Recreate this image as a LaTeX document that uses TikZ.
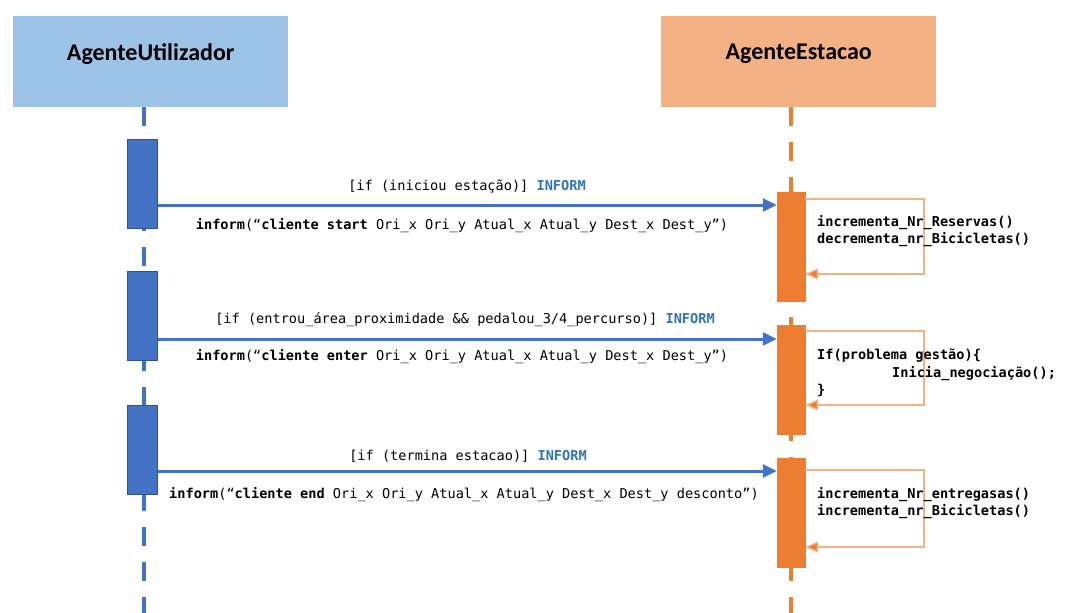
\documentclass[tikz,border=0pt]{standalone}
\usepackage{fontspec}
\setmainfont{Carlito}
\newfontfamily\codefont{DejaVu Sans Mono}
\usetikzlibrary{arrows.meta}
\definecolor{hdrblue}{HTML}{9DC3E6}
\definecolor{hdrorange}{HTML}{F4B183}
\definecolor{actblue}{HTML}{4472C4}
\definecolor{actblueb}{HTML}{2F528F}
\definecolor{actorange}{HTML}{ED7D31}
\definecolor{loopor}{HTML}{F4B183}
\definecolor{kwblue}{HTML}{2E75B6}
\tikzset{
  header/.style={minimum width=275pt,minimum height=91pt,inner sep=0pt},
  headtext/.style={font=\bfseries\fontsize{24}{28}\selectfont,inner sep=0pt},
  lifeblue/.style={draw=actblue,line width=4.5pt,dash pattern=on 19pt off 16pt},
  lifeorange/.style={draw=actorange,line width=4pt,dash pattern=on 19pt off 16pt},
  actb/.style={fill=actblue,draw=actblueb,line width=1pt,minimum width=30pt,inner sep=0pt},
  acto/.style={fill=actorange,draw=actorange,minimum width=28pt,inner sep=0pt},
  msg/.style={draw=actblue,line width=3pt,-{Triangle[length=14pt,width=13pt]}},
  selfloop/.style={draw=loopor,line width=1.5pt,-{Triangle[length=13pt,width=11pt,fill=actorange]}},
  code/.style={font=\codefont\fontsize{13.6}{17.5}\selectfont,inner sep=0pt},
}
\newcommand{\kwd}[1]{\textcolor{kwblue}{\bfseries #1}}
\begin{document}
\begin{tikzpicture}[x=1pt,y=-1pt]
\useasboundingbox[fill=white] (0,0) rectangle (1069,613);
% headers
\node[header,fill=hdrblue,anchor=north west] (hu) at (13,16) {};
\node[header,fill=hdrorange,anchor=north west] (he) at (661,16) {};
\node[headtext] (hut) at ([yshift=8pt]hu.center) {AgenteUtilizador};
\node[headtext] (het) at ([yshift=8pt]he.center) {AgenteEstacao};
% lifelines
\coordinate (lu) at (144,613);
\coordinate (le) at (791,613);
\draw[lifeblue] (hu.south -| 144,0) -- (lu);
\draw[lifeorange] (he.south -| 791,0) -- (le);
% activations user
\node[actb,minimum height=89pt,anchor=north] (au1) at (142,139) {};
\node[actb,minimum height=89pt,anchor=north] (au2) at (142,271) {};
\node[actb,minimum height=89pt,anchor=north] (au3) at (142,405) {};
% activations station
\node[acto,minimum height=109pt,anchor=north] (ae1) at (791,192) {};
\node[acto,minimum height=109pt,anchor=north] (ae2) at (791,325) {};
\node[acto,minimum height=109pt,anchor=north] (ae3) at (791,458) {};
% messages
\draw[msg] (au1.east |- 0,205) -- (ae1.west |- 0,205);
\draw[msg] (au2.east |- 0,339) -- (ae2.west |- 0,339);
\draw[msg] (au3.east |- 0,471) -- (ae3.west |- 0,471);
% message labels
\node[code] (l1a) at (467,187) {[if (iniciou estação)] \kwd{INFORM}};
\node[code] (l1b) at (462,226) {\textbf{inform}(“\textbf{cliente start} Ori\_x Ori\_y Atual\_x Atual\_y Dest\_x Dest\_y”)};
\node[code] (l2a) at (465,320) {[if (entrou\_área\_proximidade \&\& pedalou\_3/4\_percurso)] \kwd{INFORM}};
\node[code] (l2b) at (462,357) {\textbf{inform}(“\textbf{cliente enter} Ori\_x Ori\_y Atual\_x Atual\_y Dest\_x Dest\_y”)};
\node[code] (l3a) at (468,456) {[if (termina estacao)] \kwd{INFORM}};
\node[code] (l3b) at (464,495) {\textbf{inform}(“\textbf{cliente end} Ori\_x Ori\_y Atual\_x Atual\_y Dest\_x Dest\_y desconto”)};
% self loops
\draw[selfloop] (ae1.east |- 0,199) -- (924,199) -- (924,274) -- (ae1.east |- 0,274);
\draw[selfloop] (ae2.east |- 0,331) -- (924,331) -- (924,405) -- (ae2.east |- 0,405);
\draw[selfloop] (ae3.east |- 0,470) -- (924,470) -- (924,547) -- (ae3.east |- 0,547);
% loop texts
\node[code,anchor=west,align=left] (t1) at (817,231) {\textbf{incrementa\_Nr\_Reservas()}\\\textbf{decrementa\_nr\_Bicicletas()}};
\node[code,anchor=west,align=left] (t2) at (817,373) {\textbf{If(problema gestão)\{}\\\hspace*{75pt}\textbf{Inicia\_negociação();}\\\textbf{\}}};
\node[code,anchor=west,align=left] (t3) at (817,503) {\textbf{incrementa\_Nr\_entregasas()}\\\textbf{incrementa\_nr\_Bicicletas()}};
\end{tikzpicture}
\end{document}
